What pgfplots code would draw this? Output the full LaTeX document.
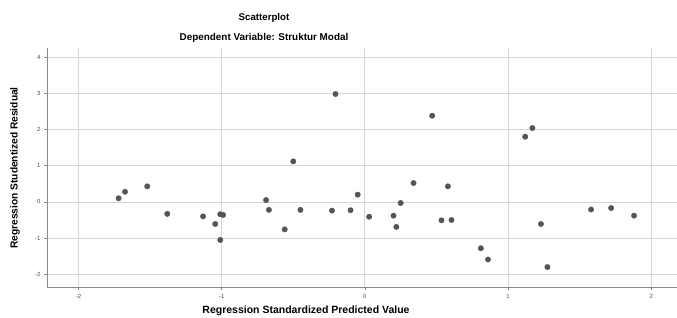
\documentclass[border=0pt]{standalone}
\usepackage{pgfplots}
\pgfplotsset{compat=1.18}
\usepackage{fontspec}
\setmainfont{Liberation Sans}
\definecolor{gridc}{HTML}{D6D6D6}
\definecolor{axc}{HTML}{8A8A8A}
\definecolor{ptc}{HTML}{555555}
\begin{document}
\begin{tikzpicture}[x=1pt,y=1pt]
\path[use as bounding box] (0,0) rectangle (677,318);
\begin{axis}[
  at={(47pt,31pt)}, anchor=south west,
  scale only axis, width=630pt, height=239pt,
  xmin=-2.22, xmax=2.18, ymin=-2.35, ymax=4.25,
  xtick={-2,-1,0,1,2}, ytick={-2,-1,0,1,2,3,4},
  grid=major, major grid style={gridc, line width=0.8pt},
  axis x line*=bottom, axis y line*=left,
  axis line style={axc, line width=0.8pt, -},
  tick style={axc, line width=0.5pt},
  tick align=outside, major tick length=3pt,
  tick label style={font=\fontsize{6}{7}\selectfont, text=black!70},
  /pgf/number format/assume math mode=true,
  xticklabel style={yshift=-1pt},
  clip=false,
]
\addplot[only marks, mark=*, mark size=2.7pt, mark options={fill=ptc, draw=ptc}] coordinates {
(-1.72,0.10) (-1.675,0.28) (-1.52,0.43) (-1.38,-0.33) (-1.13,-0.40)
(-1.045,-0.61) (-1.01,-0.34) (-0.99,-0.36) (-1.01,-1.05)
(-0.69,0.05) (-0.67,-0.22) (-0.56,-0.76) (-0.50,1.12) (-0.45,-0.22)
(-0.23,-0.24) (-0.205,2.98) (-0.10,-0.23) (-0.05,0.20) (0.03,-0.41)
(0.20,-0.38) (0.22,-0.69) (0.25,-0.03) (0.34,0.52) (0.47,2.38)
(0.535,-0.51) (0.58,0.43) (0.605,-0.50) (0.81,-1.28) (0.86,-1.59)
(1.12,1.80) (1.17,2.04) (1.23,-0.61) (1.275,-1.80)
(1.58,-0.21) (1.72,-0.17) (1.88,-0.38)
};
\end{axis}
\node[font=\bfseries\fontsize{9.7}{11}\selectfont] at (264,300) {Scatterplot};
\node[font=\bfseries\fontsize{9.9}{11}\selectfont] at (264,280) {Dependent Variable: Struktur Modal};
\node[font=\bfseries\fontsize{10.5}{12}\selectfont] at (306,7) {Regression Standardized Predicted Value};
\node[font=\bfseries\fontsize{10.2}{12}\selectfont, rotate=90] at (15,150) {Regression Studentized Residual};
\end{tikzpicture}
\end{document}
